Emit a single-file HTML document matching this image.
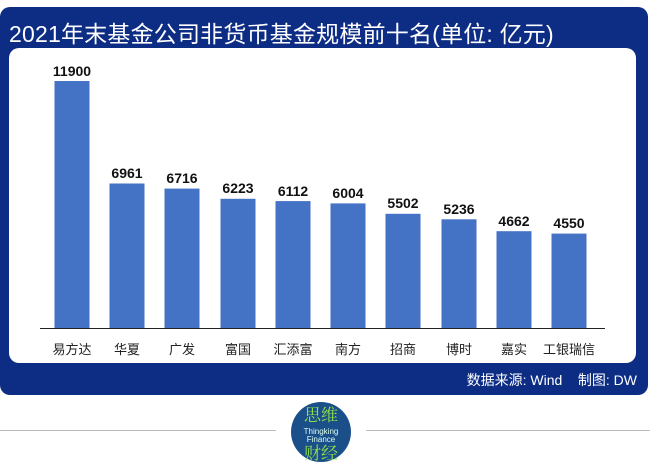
<!DOCTYPE html>
<html><head><meta charset="utf-8"><style>
body{margin:0;width:650px;height:463px;background:#fff;position:relative;overflow:hidden;font-family:"Liberation Sans","Noto Sans CJK SC",sans-serif}
#blue{position:absolute;left:0;top:7px;width:648px;height:388px;background:#0d2c84;border-radius:10px}
#title{position:absolute;left:9px;top:15px;color:#fff;font-size:23px;letter-spacing:0.2px;white-space:nowrap}
#white{position:absolute;left:9px;top:48px;width:627px;height:315px;background:#fff;border-radius:10px}
#src{position:absolute;right:13px;top:370px;color:#fff;font-size:14px}
</style></head><body>
<div id="blue"></div>
<div id="title">2021年末基金公司非货币基金规模前十名(单位: 亿元)</div>
<div id="white"></div>
<div id="src">数据来源: Wind&nbsp;&nbsp;&nbsp;&nbsp;制图: DW</div>
<svg width="650" height="463" style="position:absolute;left:0;top:0">
<g fill="#4472c4">
<rect x="54.5" y="81" width="35" height="247"/>
<rect x="109.5" y="183.5" width="35" height="144.5"/>
<rect x="164.5" y="188.6" width="35" height="139.4"/>
<rect x="220.5" y="198.8" width="35" height="129.2"/>
<rect x="275.5" y="201.1" width="35" height="126.9"/>
<rect x="330.5" y="203.4" width="35" height="124.6"/>
<rect x="385.5" y="213.8" width="35" height="114.2"/>
<rect x="441.5" y="219.3" width="35" height="108.7"/>
<rect x="496.5" y="231.2" width="35" height="96.8"/>
<rect x="551.5" y="233.6" width="35" height="94.4"/>
</g>
<line x1="40" y1="328.5" x2="605" y2="328.5" stroke="#222" stroke-width="1"/>
<g font-size="14" font-weight="bold" text-anchor="middle" fill="#111" font-family="Liberation Sans, sans-serif">
<text x="72" y="76">11900</text><text x="127" y="178">6961</text><text x="182" y="183">6716</text><text x="238" y="193">6223</text><text x="293" y="196">6112</text><text x="348" y="198">6004</text><text x="403" y="208">5502</text><text x="459" y="214">5236</text><text x="514" y="226">4662</text><text x="569" y="228">4550</text>
</g>
<g font-size="13" text-anchor="middle" fill="#222" font-family="Liberation Sans, Noto Sans CJK SC, sans-serif">
<text x="72" y="354">易方达</text><text x="127" y="354">华夏</text><text x="182" y="354">广发</text><text x="238" y="354">富国</text><text x="293" y="354">汇添富</text><text x="348" y="354">南方</text><text x="403" y="354">招商</text><text x="459" y="354">博时</text><text x="514" y="354">嘉实</text><text x="569" y="354">工银瑞信</text>
</g>
<line x1="0" y1="430.5" x2="276" y2="430.5" stroke="#bbb"/>
<line x1="366" y1="430.5" x2="650" y2="430.5" stroke="#bbb"/>
<circle cx="321" cy="432" r="30" fill="#1a4f8a"/>
<text x="321" y="421" font-size="17" fill="#8fe04a" text-anchor="middle" font-family="Noto Serif CJK SC, serif">思维</text>
<text x="321" y="434" font-size="8" fill="#dfe" text-anchor="middle">Thingking</text>
<text x="321" y="442" font-size="8" fill="#dfe" text-anchor="middle">Finance</text>
<text x="321" y="459" font-size="17" fill="#8fe04a" text-anchor="middle" font-family="Noto Serif CJK SC, serif">财经</text>
</svg>
</body></html>
